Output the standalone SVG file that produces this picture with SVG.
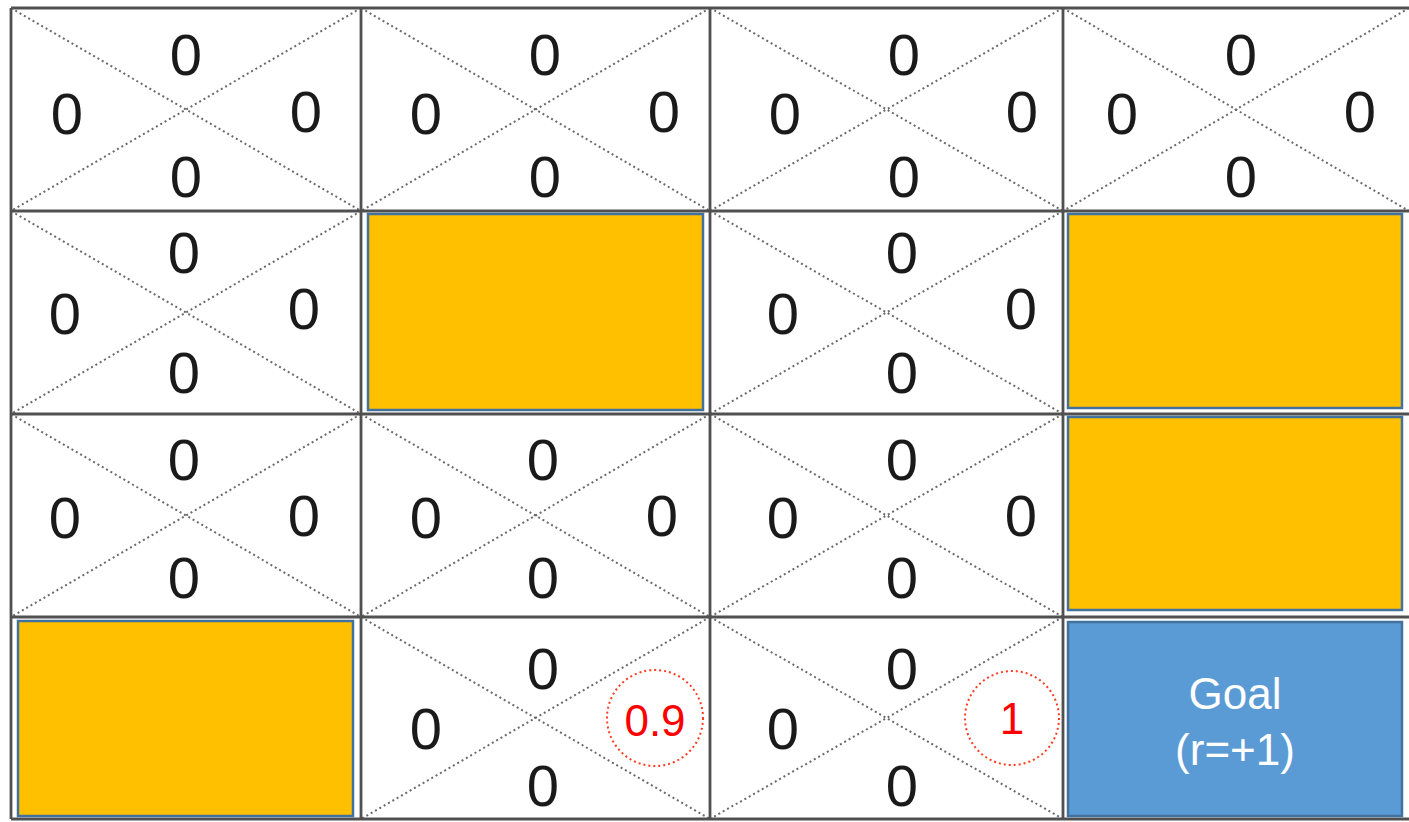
<svg xmlns="http://www.w3.org/2000/svg" width="1409" height="822" viewBox="0 0 1409 822">
<style>
.diag{stroke:#6a6a6a;stroke-width:2;stroke-dasharray:2 3;fill:none}
.grid{stroke:#505050;stroke-width:2.8;fill:none}
.v{font-family:"Liberation Sans",Arial,sans-serif;font-size:58px;fill:#1a1a1a;text-anchor:middle}
.wall{fill:#FFC000;stroke:#41719C;stroke-width:2.5}
.goal{fill:#5B9BD5;stroke:#41719C;stroke-width:2.5}
.gt{font-family:"Liberation Sans",Arial,sans-serif;font-size:44px;fill:#fff;text-anchor:middle}
.rc{fill:none;stroke:#FF3B1F;stroke-width:2;stroke-dasharray:2 3}
.rt{font-family:"Liberation Sans",Arial,sans-serif;font-size:44px;fill:#FF0000;text-anchor:middle}
</style>
<rect width="1409" height="822" fill="#fff"/>
<g id="connectors">
<path class="diag" d="M11,8 L361,211 M361,8 L11,211 M361,8 L710,211 M710,8 L361,211 M710,8 L1063,211 M1063,8 L710,211 M1063,8 L1409,211 M1409,8 L1063,211"/>
<path class="diag" d="M11,211 L361,414 M361,211 L11,414 M710,211 L1063,414 M1063,211 L710,414"/>
<path class="diag" d="M11,414 L361,617 M361,414 L11,617 M361,414 L710,617 M710,414 L361,617 M710,414 L1063,617 M1063,414 L710,617"/>
<path class="diag" d="M361,617 L710,819 M710,617 L361,819 M710,617 L1063,819 M1063,617 L710,819"/>
</g>
<g id="grid">
<path class="grid" d="M11,8 H1409 M11,211 H1409 M11,414 H1409 M11,617 H1409 M11,819 H1409 M11,8 V819 M361,8 V819 M710,8 V819 M1063,8 V819"/>
</g>
<g id="wall-1-1"><rect class="wall" x="368" y="214" width="335" height="196"/></g>
<g id="wall-1-3"><rect class="wall" x="1068" y="214" width="334" height="194"/></g>
<g id="wall-2-3"><rect class="wall" x="1068" y="417" width="334" height="193"/></g>
<g id="wall-3-0"><rect class="wall" x="18" y="621" width="335" height="195"/></g>
<g id="goal"><rect class="goal" x="1068" y="622" width="334" height="194"/>
<text class="gt" x="1235" y="709">Goal</text>
<text class="gt" x="1235" y="765">(r=+1)</text></g>
<g id="cell-0-0"><text class="v" x="186" y="75">0</text><text class="v" x="67" y="134">0</text><text class="v" x="306" y="132">0</text><text class="v" x="186" y="197">0</text></g>
<g id="cell-0-1"><text class="v" x="545" y="75">0</text><text class="v" x="426" y="134">0</text><text class="v" x="664" y="132">0</text><text class="v" x="545" y="197">0</text></g>
<g id="cell-0-2"><text class="v" x="904" y="75">0</text><text class="v" x="785" y="134">0</text><text class="v" x="1022" y="132">0</text><text class="v" x="904" y="197">0</text></g>
<g id="cell-0-3"><text class="v" x="1241" y="75">0</text><text class="v" x="1122" y="134">0</text><text class="v" x="1360" y="132">0</text><text class="v" x="1241" y="197">0</text></g>
<g id="cell-1-0"><text class="v" x="184" y="273">0</text><text class="v" x="65" y="334">0</text><text class="v" x="304" y="329">0</text><text class="v" x="184" y="393">0</text></g>
<g id="cell-1-2"><text class="v" x="902" y="273">0</text><text class="v" x="783" y="334">0</text><text class="v" x="1021" y="329">0</text><text class="v" x="902" y="393">0</text></g>
<g id="cell-2-0"><text class="v" x="184" y="480">0</text><text class="v" x="65" y="538">0</text><text class="v" x="304" y="536">0</text><text class="v" x="184" y="598">0</text></g>
<g id="cell-2-1"><text class="v" x="543" y="480">0</text><text class="v" x="426" y="538">0</text><text class="v" x="662" y="536">0</text><text class="v" x="543" y="598">0</text></g>
<g id="cell-2-2"><text class="v" x="902" y="480">0</text><text class="v" x="783" y="538">0</text><text class="v" x="1021" y="536">0</text><text class="v" x="902" y="598">0</text></g>
<g id="cell-3-1"><text class="v" x="543" y="689">0</text><text class="v" x="426" y="749">0</text><text class="v" x="543" y="806">0</text>
<circle class="rc" cx="655" cy="718" r="48"/><text class="rt" x="655" y="736">0.9</text></g>
<g id="cell-3-2"><text class="v" x="902" y="689">0</text><text class="v" x="783" y="749">0</text><text class="v" x="902" y="806">0</text>
<circle class="rc" cx="1012" cy="718" r="47"/><text class="rt" x="1012" y="734">1</text></g>
</svg>
